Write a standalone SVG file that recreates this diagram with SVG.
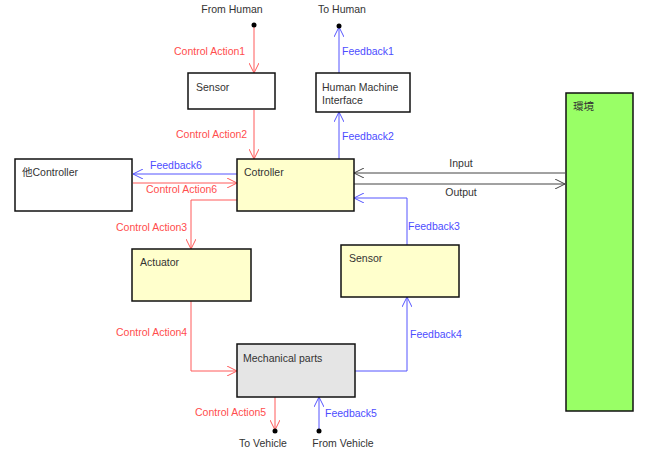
<svg xmlns="http://www.w3.org/2000/svg" width="651" height="454" viewBox="0 0 651 454">
<style>
text{font-family:"Liberation Sans",Arial,sans-serif;font-size:10.5px;fill:#333}
.r{fill:#ff4d4d}.b{fill:#4d4dff}
.box{stroke:#111;stroke-width:1.5}
.lr{stroke:#ff5a5a;fill:none;stroke-width:1}
.lb{stroke:#5555ff;fill:none;stroke-width:1}
.lk{stroke:#444;fill:none;stroke-width:1}
</style>
<defs>
<marker id="ar" viewBox="0 0 10 10" refX="10" refY="5" markerWidth="10" markerHeight="10" markerUnits="userSpaceOnUse" orient="auto"><path d="M0,0 L10,5 L0,10" fill="none" stroke="#ff5a5a" stroke-width="1"/></marker>
<marker id="ab" viewBox="0 0 10 10" refX="10" refY="5" markerWidth="10" markerHeight="10" markerUnits="userSpaceOnUse" orient="auto"><path d="M0,0 L10,5 L0,10" fill="none" stroke="#5555ff" stroke-width="1"/></marker>
<marker id="ak" viewBox="0 0 10 10" refX="10" refY="5" markerWidth="10" markerHeight="10" markerUnits="userSpaceOnUse" orient="auto"><path d="M0,0 L10,5 L0,10" fill="none" stroke="#444" stroke-width="1"/></marker>
</defs>
<g id="connectors">
<path class="lr" d="M254,26 V73" marker-end="url(#ar)"/>
<path class="lb" d="M339,73 V27" marker-end="url(#ab)"/>
<path class="lr" d="M254,110 V159" marker-end="url(#ar)"/>
<path class="lb" d="M339,159 V112" marker-end="url(#ab)"/>
<path class="lb" d="M237,174 H133" marker-end="url(#ab)"/>
<path class="lr" d="M133,183 H237" marker-end="url(#ar)"/>
<path class="lr" d="M237,200 H191 V249" marker-end="url(#ar)"/>
<path class="lk" d="M565,173 H354" marker-end="url(#ak)"/>
<path class="lk" d="M354,184 H565" marker-end="url(#ak)"/>
<path class="lb" d="M407,245 V198 H354" marker-end="url(#ab)"/>
<path class="lr" d="M191,301 V371 H237" marker-end="url(#ar)"/>
<path class="lb" d="M355,371 H407 V297" marker-end="url(#ab)"/>
<path class="lr" d="M275,397 V430" marker-end="url(#ar)"/>
<path class="lb" d="M319,431 V397" marker-end="url(#ab)"/>
<circle cx="254" cy="25" r="2.5" fill="#000"/>
<circle cx="339" cy="26" r="2.5" fill="#000"/>
<circle cx="275" cy="431" r="2.5" fill="#000"/>
<circle cx="319" cy="431" r="2.5" fill="#000"/>
<text x="232" y="13" text-anchor="middle">From Human</text>
<text x="342" y="13" text-anchor="middle">To Human</text>
<text class="r" x="174" y="55">Control Action1</text>
<text class="b" x="342" y="55">Feedback1</text>
<text class="r" x="176" y="138">Control Action2</text>
<text class="b" x="342" y="140">Feedback2</text>
<text class="b" x="150" y="169">Feedback6</text>
<text class="r" x="146" y="193">Control Action6</text>
<text x="461" y="167" text-anchor="middle">Input</text>
<text x="461" y="196" text-anchor="middle">Output</text>
<text class="r" x="116" y="231">Control Action3</text>
<text class="b" x="408" y="230">Feedback3</text>
<text class="r" x="116" y="336">Control Action4</text>
<text class="b" x="410" y="338">Feedback4</text>
<text class="r" x="195" y="416">Control Action5</text>
<text class="b" x="325" y="417">Feedback5</text>
<text x="263" y="447" text-anchor="middle">To Vehicle</text>
<text x="343" y="447" text-anchor="middle">From Vehicle</text>
</g>
<g id="sensor1"><rect class="box" x="188" y="73" width="87" height="36" fill="#fff"/><text x="196" y="91">Sensor</text></g>
<g id="hmi"><rect class="box" x="316" y="73" width="94" height="39" fill="#fff"/><text x="322" y="91">Human Machine</text><text x="322" y="104">Interface</text></g>
<g id="other-controller"><rect class="box" x="15" y="159" width="117" height="52" fill="#fff"/><text x="22" y="176" style="font-family:'Liberation Sans','Noto Sans CJK JP',sans-serif">他Controller</text></g>
<g id="controller"><rect class="box" x="237" y="159" width="117" height="52" fill="#ffffcc"/><text x="244" y="176">Cotroller</text></g>
<g id="environment"><rect class="box" x="566" y="93" width="67" height="318" fill="#99ff66"/><text x="573" y="110" style="font-family:'Noto Sans CJK JP',sans-serif">環境</text></g>
<g id="actuator"><rect class="box" x="132" y="249" width="119" height="52" fill="#ffffcc"/><text x="140" y="266">Actuator</text></g>
<g id="sensor2"><rect class="box" x="341" y="245" width="118" height="52" fill="#ffffcc"/><text x="349" y="262">Sensor</text></g>
<g id="mechanical"><rect class="box" x="237" y="344" width="118" height="53" fill="#e5e5e5"/><text x="243" y="362">Mechanical parts</text></g>
</svg>
